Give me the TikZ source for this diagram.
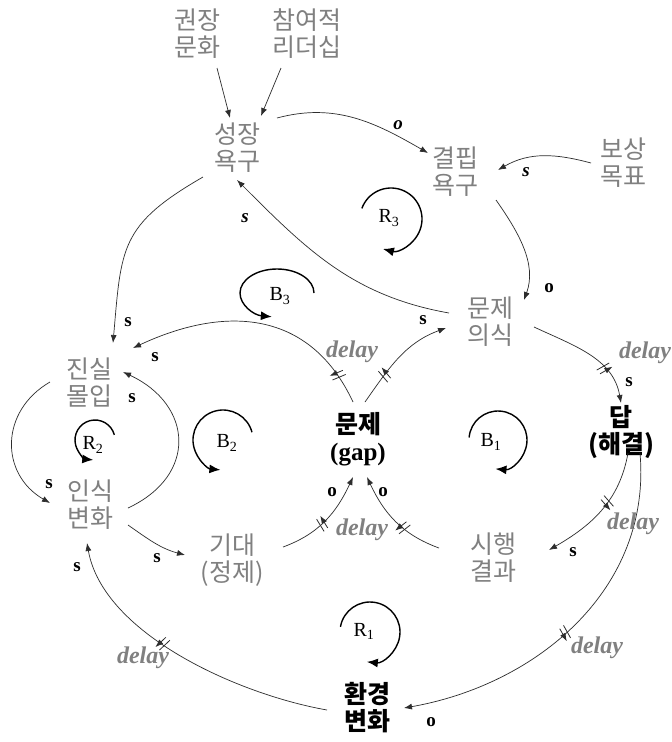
\documentclass[tikz,border=0pt]{standalone}
\usepackage{fontspec}
\setmainfont{Liberation Serif}
\newfontfamily\kr{Noto Sans CJK KR}
\usetikzlibrary{arrows.meta,decorations.markings}
\definecolor{txtgray}{RGB}{128,128,128}
\definecolor{linegray}{RGB}{45,45,45}
\begin{document}
\begin{tikzpicture}[x=1pt,y=-1pt,
  var/.style={font=\kr\fontsize{25}{27}\selectfont, text=txtgray, align=center, inner sep=1pt},
  bvar/.style={font=\kr\bfseries\fontsize{25}{27}\selectfont, text=black, align=center, inner sep=1pt},
  lnk/.style={draw=linegray, line width=0.7pt, -{Latex[length=8pt,width=6pt]}},
  pol/.style={font=\bfseries\fontsize{19}{19}\selectfont, inner sep=0pt},
  ipol/.style={font=\bfseries\itshape\fontsize{19}{19}\selectfont, inner sep=0pt},
  dl/.style={font=\bfseries\itshape\fontsize{24}{24}\selectfont, text=txtgray, inner sep=0pt},
  hash/.style={postaction={decorate, decoration={markings, mark=at position #1 with {\draw[line width=0.8pt, linegray] (-4pt,-7pt)--(-1pt,7pt) (1pt,-7pt)--(4pt,7pt);}}}},
  loopa/.style={line width=1.4pt, -{Latex[length=11pt,width=9pt]}},
  lbl/.style={font=\fontsize{20}{20}\selectfont, inner sep=0pt}
]
\path[use as bounding box, fill=white] (0,0) rectangle (672,742);

% variables
\node[var] (gw) at (197,34) {권장\\문화};
\node[var] (cy) at (307,34) {참여적\\리더십};
\node[var] (sj) at (237,148) {성장\\욕구};
\node[var] (gp) at (455,172) {결핍\\욕구};
\node[var] (bs) at (623,163) {보상\\목표};
\node[var] (mu) at (490,322) {문제\\의식};
\node[var] (js) at (89,383) {진실\\몰입};
\node[var] (is) at (90,505) {인식\\변화};
\node[bvar] (gap) at (358,439) {문제\\{\rmfamily\bfseries (gap)}};
\node[bvar] (dap) at (621,432) {답\\(해결)};
\node[var] (gd) at (232,560) {기대\\(정제)};
\node[var] (sh) at (493,558) {시행\\결과};
\node[bvar] (hg) at (367,708) {환경\\변화};

% links
\draw[lnk] ([shift={(20,34)}]gw.center) -- ([shift={(-7,-30)}]sj.center);
\draw[lnk] ([shift={(-26,34)}]cy.center) -- ([shift={(24,-32)}]sj.center);
\draw[lnk] ([shift={(40,-30)}]sj.center) to[out=15,in=150,looseness=1.0] ([shift={(-27,-19)}]gp.center);
\draw[lnk] ([shift={(-32,0)}]bs.center) to[out=165,in=30,looseness=1.0] ([shift={(43,-2)}]gp.center);
\draw[lnk] ([shift={(41,28)}]gp.center) to[out=-55,in=70,looseness=0.95] ([shift={(34,-22)}]mu.center);
\draw[lnk] ([shift={(-41,-9)}]mu.center) to[out=170,in=-45] ([shift={(0,32)}]sj.center);
\draw[lnk] ([shift={(-34,29)}]sj.center) to[out=210,in=85,looseness=1.3] ([shift={(24,-40)}]js.center);
\draw[lnk,hash=0.12] ([shift={(-5,-37)}]gap.center) to[out=115,in=25,looseness=1.15] ([shift={(44,-35)}]js.center);
\draw[lnk,hash=0.3] ([shift={(7,-37)}]gap.center) to[out=55,in=-160] ([shift={(-44,6)}]mu.center);
\draw[lnk,hash=0.68] ([shift={(44,5)}]mu.center) to[out=-25,in=100] ([shift={(0,-29)}]dap.center);
\draw[lnk] ([shift={(-39,-1)}]js.center) to[out=210,in=150,looseness=1.23] ([shift={(-40,-2)}]is.center);
\draw[lnk] ([shift={(38,3)}]is.center) to[out=25,in=-25,looseness=1.45] ([shift={(34,-11)}]js.center);
\draw[lnk] ([shift={(38,20)}]is.center) to[out=-35,in=165] ([shift={(-47,-5)}]gd.center);
\draw[lnk,hash=0.45] ([shift={(51,-13)}]gd.center) to[out=20,in=-115] ([shift={(-5,38)}]gap.center);
\draw[lnk,hash=0.4] ([shift={(-54,-10)}]sh.center) to[out=160,in=-65] ([shift={(9,38)}]gap.center);
\draw[lnk,hash=0.42] ([shift={(7,21)}]dap.center) to[out=-100,in=30] ([shift={(56,-8)}]sh.center);
\draw[lnk,hash=0.53] ([shift={(19,21)}]dap.center) to[out=-85,in=10,looseness=1.0] ([shift={(37,0)}]hg.center);
\draw[lnk,hash=0.58] ([shift={(-40,2)}]hg.center) to[out=170,in=-80,looseness=0.8] ([shift={(-3,38)}]is.center);

% polarity labels
\node[ipol] (p1) at (398,125) {o};
\node[ipol] (p2) at (526,172) {s};
\node[pol] (p3) at (549,288) {o};
\node[ipol] (p4) at (245,218) {s};
\node[pol] (p5) at (128,322) {s};
\node[pol] (p6) at (155,357) {s};
\node[pol] (p7) at (423,320) {s};
\node[pol] (p8) at (629,382) {s};
\node[pol] (p9) at (49,484) {s};
\node[pol] (p10) at (132,398) {s};
\node[pol] (p11) at (157,558) {s};
\node[pol] (p12) at (332,492) {o};
\node[pol] (p13) at (383,492) {o};
\node[pol] (p14) at (573,552) {s};
\node[pol] (p15) at (431,722) {o};
\node[pol] (p16) at (77,567) {s};

% delay labels
\node[dl] (d1) at (352,352) {delay};
\node[dl] (d2) at (645,353) {delay};
\node[dl] (d3) at (362,530) {delay};
\node[dl] (d4) at (633,524) {delay};
\node[dl] (d5) at (597,648) {delay};
\node[dl] (d6) at (143,658) {delay};

% loop markers (angles in canvas convention)
\coordinate (r3c) at (391,219);
\node[lbl] (r3) at (389,218) {R\textsubscript{3}};
\draw[loopa] ([shift={(160:31pt)}]r3c) arc[start angle=160, end angle=-105, radius=31pt];
\coordinate (b3c) at (277,293);
\node[lbl] (b3) at (280,296) {B\textsubscript{3}};
\draw[loopa] ([shift={(0:37pt)}]b3c) arc[start angle=0, end angle=262, x radius=37pt, y radius=24pt];
\coordinate (b2c) at (223,440);
\node[lbl] (b2) at (227,443) {B\textsubscript{2}};
\draw[loopa] ([shift={(15:30pt)}]b2c) arc[start angle=15, end angle=265, radius=30pt];
\coordinate (r2c) at (95,440);
\node[lbl] (r2) at (93,445) {R\textsubscript{2}};
\draw[loopa] ([shift={(15:20pt)}]r2c) arc[start angle=15, end angle=265, radius=20pt];
\coordinate (b1c) at (498,440);
\node[lbl] (b1) at (491,442) {B\textsubscript{1}};
\draw[loopa] ([shift={(175:29pt)}]b1c) arc[start angle=175, end angle=-95, radius=29pt];
\coordinate (r1c) at (370,632);
\node[lbl] (r1) at (364,631) {R\textsubscript{1}};
\draw[loopa] ([shift={(170:30pt)}]r1c) arc[start angle=170, end angle=-96, radius=30pt];
\end{tikzpicture}
\end{document}
